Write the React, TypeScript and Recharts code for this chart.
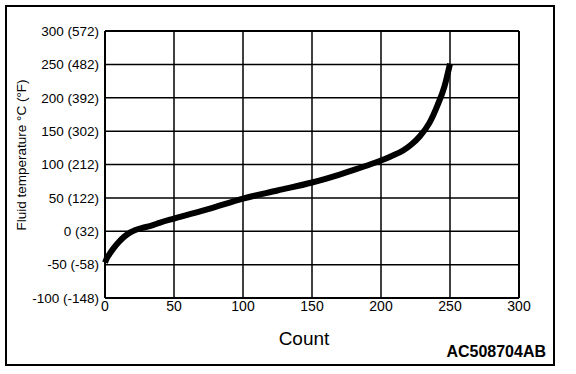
import React from 'react'
import { CartesianGrid, Line, LineChart, ReferenceLine, XAxis, YAxis } from 'recharts'

// Counts and fluid temperature (°C)
const COUNT = [0, 1, 3, 6, 10, 14, 18, 22, 27, 33, 40, 50, 76, 100, 125, 150, 170, 182, 192, 200, 207, 216, 222, 228, 235, 241, 246, 250]
const TEMP_C = [-47, -42, -35, -26, -16, -8, -2, 2, 5, 8, 13, 19, 34, 49, 61, 73, 85, 93, 100, 106, 112, 121, 130, 142, 162, 189, 217, 251]

const X_TICKS = [0, 50, 100, 150, 200, 250, 300]
const Y_TICKS = [-100, -50, 0, 50, 100, 150, 200, 250, 300]
const Y_TICK_LABELS = ['-100 (-148)', '-50 (-58)', '0 (32)', '50 (122)', '100 (212)', '150 (302)', '200 (392)', '250 (482)', '300 (572)']

const FONT = '"Liberation Sans", Arial, Helvetica, sans-serif'

const data = COUNT.map((c, i) => ({ count: c, t: TEMP_C[i] }))

export default function App() {
  return (
    <div style={{ position: 'absolute', left: 0, top: 0, width: 576, height: 374, background: '#fff', fontFamily: FONT }}>
      <LineChart width={576} height={374} data={data} margin={{ top: 31, right: 57, bottom: 46, left: 5 }}>
        <CartesianGrid stroke="#000" strokeWidth={1.5} strokeOpacity={1} />
        <XAxis
          dataKey="count" type="number" domain={[0, 300]} ticks={X_TICKS} height={30}
          tickLine={false} tickSize={0} tickMargin={3}
          axisLine={{ stroke: '#000', strokeWidth: 2 }}
          tick={{ fill: '#000', fontSize: 14, fontFamily: FONT }}
        />
        <YAxis
          type="number" domain={[-100, 300]} ticks={Y_TICKS} width={100}
          tickFormatter={(v) => Y_TICK_LABELS[Y_TICKS.indexOf(v)]}
          tickLine={false} tickSize={0} tickMargin={6}
          axisLine={{ stroke: '#000', strokeWidth: 2 }}
          tick={{ fill: '#000', fontSize: 13.5, fontFamily: FONT }}
        />
        <ReferenceLine y={300} stroke="#000" strokeWidth={2} />
        <ReferenceLine x={300} stroke="#000" strokeWidth={2} />
        <Line type="monotone" dataKey="t" stroke="#000" strokeWidth={6} dot={false} isAnimationActive={false} />
      </LineChart>

      {/* frame */}
      <div style={{ position: 'absolute', left: 5, top: 5, width: 550, height: 361, border: '2px solid #000', boxSizing: 'border-box', pointerEvents: 'none' }} />

      {/* y axis title */}
      <div style={{ position: 'absolute', left: 22, top: 155, transform: 'translate(-50%, -50%) rotate(-90deg)', whiteSpace: 'nowrap', fontSize: 13.5, lineHeight: 1 }}>
        Fluid temperature °C (°F)
      </div>

      {/* x axis title */}
      <div style={{ position: 'absolute', left: 304, top: 338, transform: 'translate(-50%, -50%)', fontSize: 19, lineHeight: 1 }}>
        Count
      </div>

      <div style={{ position: 'absolute', right: 30, top: 352, transform: 'translateY(-50%)', fontSize: 16, fontWeight: 'bold', lineHeight: 1 }}>
        AC508704AB
      </div>
    </div>
  )
}
